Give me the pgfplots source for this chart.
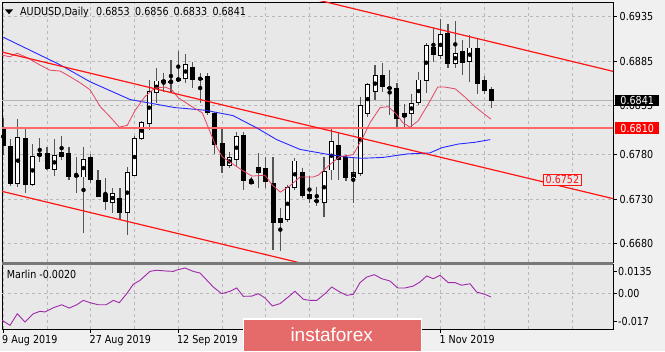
\documentclass[border=0pt]{standalone}
\usepackage{fontspec}
\setmainfont{DejaVu Sans}[FakeStretch=0.87]
\newfontfamily\bannerfont{Liberation Sans}
\usepackage{pgfplots}
\pgfplotsset{compat=1.18}
\usepackage{pgfplotstable}
\newcommand\lab{\fontsize{11bp}{13bp}\selectfont}
\definecolor{outerbg}{RGB}{240,240,240}
\definecolor{chartbg}{RGB}{232,232,232}
\definecolor{gridc}{RGB}{185,185,185}
\definecolor{wickc}{RGB}{85,85,85}
\definecolor{mapink}{RGB}{226,70,100}
\definecolor{mablue}{RGB}{40,40,255}
\definecolor{trendred}{RGB}{255,20,20}
\definecolor{levelred}{RGB}{255,105,105}
\definecolor{pricegray}{RGB}{180,180,180}
\definecolor{marlinc}{RGB}{160,40,170}
\definecolor{bannerc}{RGB}{229,106,106}
\definecolor{sepc}{RGB}{120,120,120}

\pgfplotstableread{
i o h l c
2 0.6748 0.6820 0.6744 0.6799
4 0.6747 0.6792 0.6745 0.6778
5 0.6779 0.6799 0.6772 0.6781
7 0.6764 0.6798 0.6756 0.6779
8 0.6778 0.6801 0.6774 0.6783
11 0.6755 0.6789 0.6692 0.6775
15 0.6726 0.6743 0.6715 0.6737
17 0.6715 0.6766 0.6690 0.6760
18 0.6757 0.6801 0.6757 0.6798
19 0.6798 0.6818 0.6797 0.6816
20 0.6815 0.6864 0.6808 0.6851
21 0.6850 0.6878 0.6838 0.6863
23 0.6861 0.6887 0.6850 0.6863
24 0.6863 0.6896 0.6862 0.6866
25 0.6866 0.6893 0.6861 0.6881
31 0.6768 0.6783 0.6765 0.6777
32 0.6775 0.6806 0.6766 0.6801
35 0.6760 0.6782 0.6743 0.6766
38 0.6704 0.6720 0.6672 0.6708
39 0.6707 0.6746 0.6704 0.6743
40 0.6743 0.6777 0.6740 0.6773
44 0.6726 0.6777 0.6710 0.6761
45 0.6763 0.6811 0.6752 0.6795
48 0.6754 0.6778 0.6726 0.6760
49 0.6759 0.6845 0.6756 0.6835
50 0.6826 0.6861 0.6823 0.6859
51 0.6851 0.6881 0.6842 0.6869
55 0.6823 0.6837 0.6811 0.6826
56 0.6826 0.6848 0.6811 0.6838
57 0.6839 0.6873 0.6836 0.6864
58 0.6864 0.6906 0.6850 0.6903
60 0.6892 0.6932 0.6887 0.6915
62 0.6883 0.6930 0.6878 0.6894
64 0.6885 0.6914 0.6862 0.6900
}\bull

\pgfplotstableread{
i o h l c
0 0.6811 0.6821 0.6780 0.6790
1 0.6789 0.6798 0.6745 0.6748
3 0.6798 0.6809 0.6737 0.6747
6 0.6782 0.6789 0.6763 0.6765
9 0.6782 0.6789 0.6752 0.6755
10 0.6757 0.6778 0.6737 0.6756
12 0.6777 0.6781 0.6748 0.6752
13 0.6751 0.6763 0.6733 0.6733
14 0.6735 0.6754 0.6718 0.6727
16 0.6731 0.6743 0.6707 0.6715
22 0.6864 0.6872 0.6850 0.6861
26 0.6878 0.6884 0.6855 0.6865
27 0.6866 0.6872 0.6838 0.6865
28 0.6868 0.6872 0.6825 0.6827
29 0.6827 0.6828 0.6781 0.6792
30 0.6793 0.6810 0.6760 0.6768
33 0.6802 0.6806 0.6740 0.6751
34 0.6750 0.6755 0.6747 0.6748
36 0.6765 0.6778 0.6743 0.6750
37 0.6748 0.6778 0.6673 0.6704
41 0.6760 0.6765 0.6731 0.6734
42 0.6736 0.6756 0.6726 0.6731
43 0.6729 0.6744 0.6723 0.6727
46 0.6790 0.6804 0.6752 0.6775
47 0.6777 0.6780 0.6750 0.6754
52 0.6869 0.6883 0.6851 0.6857
53 0.6856 0.6875 0.6825 0.6854
54 0.6854 0.6861 0.6811 0.6821
59 0.6901 0.6923 0.6884 0.6893
61 0.6916 0.6927 0.6878 0.6883
63 0.6896 0.6909 0.6870 0.6884
65 0.6899 0.6910 0.6848 0.6860
66 0.6864 0.6868 0.6848 0.6852
67 0.6853 0.6856 0.6833 0.6841
}\bear

\begin{document}
\begin{tikzpicture}[x=1bp,y=1bp]
\useasboundingbox (0,0) rectangle (665,351);
\fill[outerbg] (0,0) rectangle (665,351);

% ---------------- main price panel ----------------
\begin{axis}[
  at={(2bp,89bp)}, anchor=south west, scale only axis,
  width=611bp, height=260bp,
  xmin=-0.18, xmax=83.64, ymin=0.66595, ymax=0.69516,
  axis background/.style={fill=chartbg},
  axis line style={draw=black, line width=0.8bp},
  clip mode=individual,
  scaled y ticks=false,
  ytick={0.668,0.673,0.678,0.6835,0.6885,0.6935},
  yticklabels={0.6680,0.6730,0.6780,0.6835,0.6885,0.6935},
  ytick pos=right, yticklabel pos=right,
  tick align=outside, major tick length=4bp,
  ytick style={black, line width=0.7bp},
  y tick label style={font=\lab, anchor=west, inner sep=0pt, xshift=2.5bp},
  xtick={0,6,...,78}, xticklabels={},
  xtick style={/pgfplots/major tick length=0pt, draw=none},
  grid=major,
  grid style={draw=gridc, dash pattern=on 3bp off 3bp, line width=0.7bp},
]
% current price line
\addplot[pricegray, line width=0.8bp, forget plot] coordinates {(-0.18,0.6841) (83.64,0.6841)};
% wicks
\addplot[only marks, mark=none, forget plot, error bars/.cd, y dir=both, y explicit, error mark=none,
  error bar style={draw=wickc, line width=1.2bp}]
  table[x=i, y expr={(\thisrow{h}+\thisrow{l})/2}, y error expr={(\thisrow{h}-\thisrow{l})/2}] {\bull};
\addplot[only marks, mark=none, forget plot, error bars/.cd, y dir=both, y explicit, error mark=none,
  error bar style={draw=wickc, line width=1.2bp}]
  table[x=i, y expr={(\thisrow{h}+\thisrow{l})/2}, y error expr={(\thisrow{h}-\thisrow{l})/2}] {\bear};
% bearish bodies
\addplot[only marks, mark=none, forget plot, error bars/.cd, y dir=both, y explicit, error mark=none,
  error bar style={draw=black, line width=5bp}]
  table[x=i, y expr={(\thisrow{o}+\thisrow{c})/2}, y error expr={(\thisrow{o}-\thisrow{c})/2+0.00005}] {\bear};
% bullish bodies
\addplot[only marks, mark=none, forget plot, error bars/.cd, y dir=both, y explicit, error mark=none,
  error bar style={draw=black, line width=5bp}]
  table[x=i, y expr={(\thisrow{o}+\thisrow{c})/2}, y error expr={(\thisrow{c}-\thisrow{o})/2+0.00005}] {\bull};
\addplot[only marks, mark=none, forget plot, error bars/.cd, y dir=both, y explicit, error mark=none,
  error bar style={draw=white, line width=3bp}]
  table[x=i, y expr={(\thisrow{o}+\thisrow{c})/2}, y error expr={(\thisrow{c}-\thisrow{o})/2-0.00005}] {\bull};
% horizontal level 0.6810
\addplot[levelred, line width=1.8bp, forget plot] coordinates {(-0.18,0.6810) (83.64,0.6810)};
% blue moving average
\addplot[mablue, line width=0.9bp, forget plot] coordinates {
(0,0.6912) (7.8,0.6881) (11.9,0.6862) (17.4,0.6842) (23.5,0.6833) (27.7,0.6830) (31.5,0.6824)
(34.8,0.6810) (37.5,0.6797) (40.7,0.6786) (44.8,0.6780) (47.6,0.6777) (49.2,0.6776) (52.1,0.6777)
(55.5,0.6781) (58.5,0.6782) (60.2,0.6788) (62.4,0.6792) (64.7,0.6794) (66.8,0.6797)};
% pink moving average
\addplot[mapink, line width=0.8bp, forget plot] coordinates {
(-0.18,0.6892) (0.9,0.6890) (1.9,0.6894) (3.3,0.6889) (5.0,0.6881) (6.4,0.6875) (7.8,0.6874)
(9.1,0.6868) (10.5,0.6861) (11.9,0.6853) (13.3,0.6834) (14.6,0.6823) (15.9,0.6811) (17.0,0.6813)
(18.1,0.6830) (19.4,0.6845) (20.8,0.6855) (22.2,0.6856) (23.1,0.6853) (24.0,0.6844) (25.9,0.6834)
(27.3,0.6827) (28.1,0.6811) (29.0,0.6793) (30.0,0.6778) (31.4,0.6770) (32.7,0.6763) (34.1,0.6756)
(35.9,0.6757) (36.9,0.6746) (38.0,0.6738) (39.3,0.6745) (40.7,0.6755) (42.5,0.6755) (43.2,0.6757)
(44.8,0.6769) (46.2,0.6778) (48.0,0.6780) (49.3,0.6799) (50.3,0.6816) (51.7,0.6833) (52.8,0.6834)
(53.9,0.6826) (54.8,0.6816) (55.8,0.6811) (56.9,0.6818) (58.3,0.6837) (59.6,0.6856) (60.6,0.6856)
(62.0,0.6854) (63.3,0.6845) (64.7,0.6834) (66.1,0.6825) (66.9,0.6820)};
% trend channel lines
\addplot[trendred, line width=1.2bp, forget plot] coordinates {(40,0.6960) (84,0.6873)};
\addplot[trendred, line width=1.2bp, forget plot] coordinates {(-0.5,0.6896) (84,0.6730)};
\addplot[trendred, line width=1.2bp, forget plot] coordinates {(-0.5,0.67395) (45,0.66501)};
\node[draw=trendred, fill=chartbg, text=trendred, font=\lab, inner xsep=2bp, inner ysep=1.5bp, line width=0.8bp]
  at (axis cs:76.7,0.6752) {0.6752};
\coordinate (r6841) at (axis cs:83.64,0.6841);
\coordinate (r6810) at (axis cs:83.64,0.6810);
\end{axis}

% ---------------- Marlin panel ----------------
\begin{axis}[
  at={(2bp,22bp)}, anchor=south west, scale only axis,
  width=611bp, height=65bp,
  xmin=-0.18, xmax=83.64, ymin=-0.02166, ymax=0.01823,
  axis background/.style={fill=chartbg},
  axis line style={draw=black, line width=0.8bp},
  clip mode=individual,
  scaled y ticks=false,
  ytick={-0.017,0,0.0135},
  yticklabels={-0.017,0.00,0.0135},
  ytick pos=right, yticklabel pos=right,
  tick align=outside, major tick length=4bp,
  ytick style={black, line width=0.7bp},
  y tick label style={font=\lab, anchor=west, inner sep=0pt, xshift=1bp},
  xtick={0,12,24,36,48,60}, xticklabels={},
  minor xtick={6,18,30,42,54,66,72,78},
  xtick pos=bottom,
  xtick style={black, line width=0.7bp},
  minor tick length=0pt,
  xmajorgrids=true, xminorgrids=true, ymajorgrids=false,
  major grid style={draw=gridc, dash pattern=on 3bp off 3bp, line width=0.7bp},
  minor grid style={draw=gridc, dash pattern=on 3bp off 3bp, line width=0.7bp},
  extra y ticks={0}, extra y tick labels={},
  extra y tick style={ymajorgrids=true, major tick length=0pt},
]
\addplot[marlinc, line width=0.9bp, forget plot] coordinates {
(-0.18,-0.0163) (0.92,-0.0194) (1.92,-0.0123) (2.98,-0.0174) (4.12,-0.0123) (5.03,-0.0108)
(5.72,-0.0112) (6.86,-0.0086) (8.01,-0.0068) (9.05,-0.0088) (10.07,-0.0068) (10.97,-0.0041)
(11.89,-0.0055) (13.03,-0.0068) (14.09,-0.0068) (15.09,-0.0041) (15.91,-0.0055) (16.93,0)
(17.83,0.0058) (18.75,0.0082) (20.12,0.0137) (21.04,0.0144) (22.41,0.0139) (23.32,0.0137)
(23.79,0.0145) (24.92,0.0158) (26.06,0.0137) (26.98,0.0127) (28.81,0.0041) (29.96,0)
(31.1,0.0015) (32.02,0.0035) (32.92,-0.0016) (34.07,-0.0015) (34.98,0) (35.9,-0.0026)
(36.9,-0.0075) (37.96,-0.0061) (39.09,-0.0020) (40.01,0.0015) (41.15,-0.0034) (42.07,-0.0041)
(42.99,-0.0041) (44.13,0) (45.05,0.0041) (46.19,0.0010) (47.11,-0.0010) (48.01,-0.0004)
(48.93,0.0068) (49.85,0.0102) (50.89,0.0117) (51.91,0.0092) (53.05,0.0078) (54.1,0.0035)
(55.1,0.0035) (56.24,0.0047) (57.16,0.0072) (58.08,0.0109) (58.98,0.0092) (59.9,0.0113)
(61.04,0.0068) (61.96,0.0068) (62.88,0.0052) (64.02,0.0061) (64.94,0.0010) (66.08,-0.0004)
(66.9,-0.0020)};
\node[anchor=base west, inner sep=0pt, font=\lab, xshift=-1.3bp, yshift=-14.3bp] at (axis cs:0,-0.02166) {9 Aug 2019};
\node[anchor=base west, inner sep=0pt, font=\lab, xshift=-1.3bp, yshift=-14.3bp] at (axis cs:12,-0.02166) {27 Aug 2019};
\node[anchor=base west, inner sep=0pt, font=\lab, xshift=-1.3bp, yshift=-14.3bp] at (axis cs:24,-0.02166) {12 Sep 2019};
\node[anchor=base west, inner sep=0pt, font=\lab, xshift=-1.3bp, yshift=-14.3bp] at (axis cs:60,-0.02166) {1 Nov 2019};
\end{axis}

% panel separator
\fill[sepc] (2,86.5) rectangle (613,89.5);

% right-hand price boxes
\node[fill=black, text=white, font=\lab, anchor=west, minimum width=44bp, minimum height=11.5bp, inner sep=0pt]
  at ([xshift=2bp]r6841) {0.6841};
\node[fill=red, text=white, font=\lab, anchor=west, minimum width=44bp, minimum height=12bp, inner sep=0pt]
  at ([xshift=2bp]r6810) {0.6810};

% title line
\fill[black] (5,341.5) -- (13,341.5) -- (9,336.8) -- cycle;
\node[anchor=base west, inner sep=0pt, font=\lab] at (20,335.3) {AUDUSD,Daily};
\node[anchor=base west, inner sep=0pt, font=\lab] at (96,335.3) {0.6853};
\node[anchor=base west, inner sep=0pt, font=\lab] at (135,335.3) {0.6856};
\node[anchor=base west, inner sep=0pt, font=\lab] at (173.5,335.3) {0.6833};
\node[anchor=base west, inner sep=0pt, font=\lab] at (212.3,335.3) {0.6841};
\node[anchor=base west, inner sep=0pt, font=\lab] at (6.7,72.3) {Marlin -0.0020};

% banner
\filldraw[fill=bannerc, draw=white, line width=1.5bp] (243.5,-1) rectangle (421.5,32);
\node[anchor=base, inner sep=0pt, text=white, font=\bannerfont\fontsize{19bp}{22bp}\selectfont] at (331.7,10) {instaforex};
\end{tikzpicture}
\end{document}
